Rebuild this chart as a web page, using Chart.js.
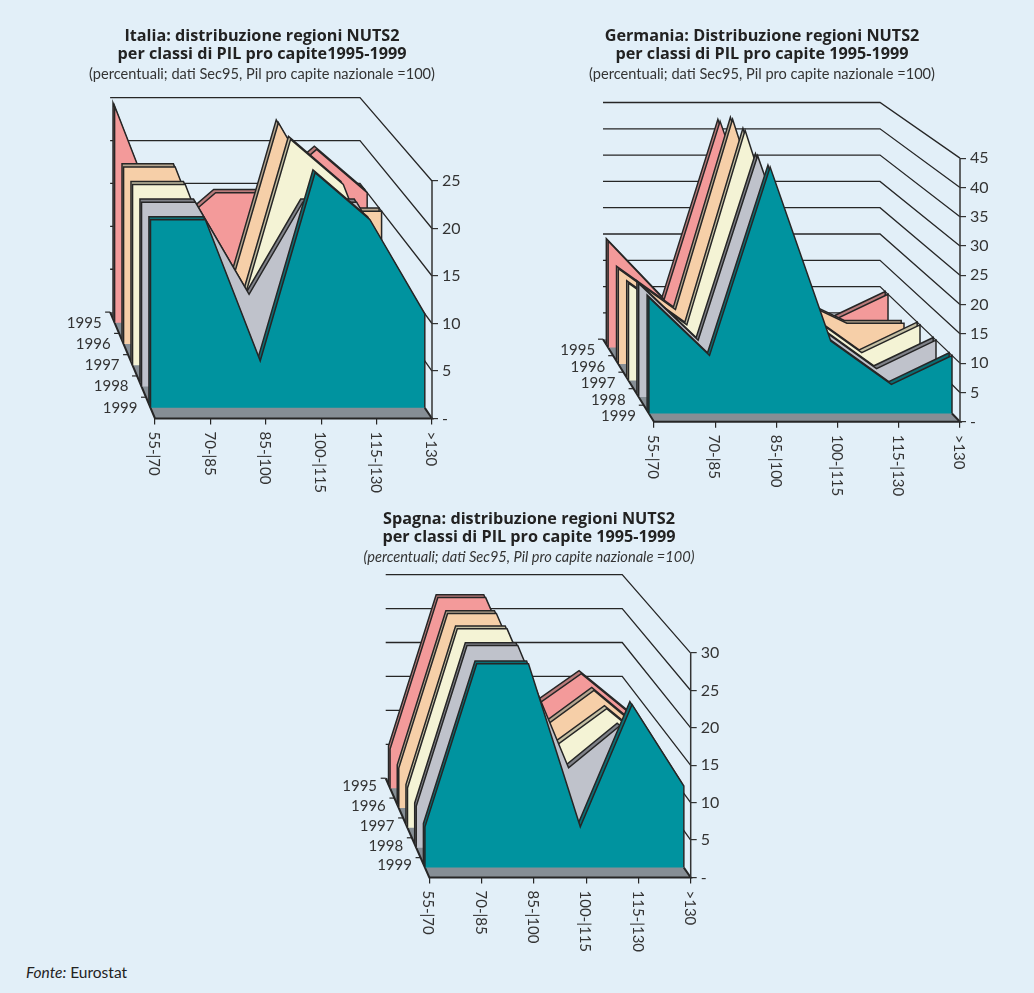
<!doctype html>
<html lang="it">
  <head>
    <meta charset="utf-8">
    <title>Distribuzione regioni NUTS2</title>
    <script src="https://cdnjs.cloudflare.com/ajax/libs/Chart.js/4.4.1/chart.umd.js"></script>
    <style>
      body { margin:0; background:#e2eff8; width:1034px; height:993px; position:relative; overflow:hidden; }
      canvas { position:absolute; }
      #fonte { position:absolute; left:26px; top:963px; font:15.5px Lato, sans-serif; color:#222; }
    </style>
  </head>
  <body>
    <canvas id="italia" width="524" height="500" style="left:0;top:0"></canvas>
    <canvas id="germania" width="544" height="500" style="left:490px;top:0"></canvas>
    <canvas id="spagna" width="598" height="480" style="left:230px;top:483px"></canvas>
    <div id="fonte"><i>Fonte:</i> Eurostat</div>

  <script>
    const categorie = ["55-|70","70-|85","85-|100","100-|115","115-|130",">130"];
    const anni = ["1995","1996","1997","1998","1999"];

    const italia1995 = [25,10,15,15,20,15];
    const italia1996 = [20,20,5,25,15,15];
    const italia1997 = [20,20,5,25,20,5];
    const italia1998 = [20,20,10,20,20,10];
    const italia1999 = [20,20,5,25,20,10];
    const italiaTick = [0,5,10,15,20,25];

    const germania1995 = [20,9,42.5,12.5,5,10];
    const germania1996 = [17.5,10,45,12.5,7.5,7.5];
    const germania1997 = [17.5,10,45,12.5,5,10];
    const germania1998 = [20,10,42.5,12.5,5,10];
    const germania1999 = [20,10,42.5,12.5,5,10];
    const germaniaTick = [0,5,10,15,20,25,30,35,40,45];

    const spagna1995 = [5.7,27.8,27.8,11.8,16.7,11];
    const spagna1996 = [5.7,27.8,27.8,11.7,16.8,11];
    const spagna1997 = [5.6,27.9,27.9,11.6,16.7,11];
    const spagna1998 = [5.7,27.8,27.8,11,16.7,11];
    const spagna1999 = [5.5,27.5,27.5,5.5,22,11];
    const spagnaTick = [0,5,10,15,20,25,30];

    const inchiostro = "#262626";
    const testo = "#333";
    const pavimento = "#868e95";
    // dal fondo (1995) verso il davanti (1999)
    const profondita = [0.9,0.7,0.5,0.3,0.1];
    const spessore = 0.035;
    const coloreArea = ["#f39a9a","#f6cfa8","#f4f3d5","#bfc2cb","#00939f"];
    const coloreBordo = ["#b87a7a","#b5a58f","#c4bfa3","#7f8188","#0a6e75"];
    const font = "Lato, sans-serif";

    // passa da (classe, valore, profondita) alle unita delle scale
    function punto(p, i, v, t){
      let sx = t*p.backLeft;
      let dx = 5 + t*(p.backRight-5);
      return { x: sx + i/5*(dx-sx), y: t*p.backBase + v*(1 - t*(1-p.backScale)) };
    }

    function sagoma(p, valori, t){
      let base = t*p.backBase;
      let pts = valori.map((v,i) => punto(p,i,v,t));
      pts.unshift({x:pts[0].x, y:base});
      pts.push({x:pts[pts.length-1].x, y:base});
      return pts;
    }

    function creaDatasets(p){
      let out = [];
      for(let k=p.serie.length-1; k>=0; k--){
        let t = profondita[k];
        out.push({data:sagoma(p,p.serie[k],t), backgroundColor:coloreArea[k], fill:{value:t*p.backBase},
          borderColor:inchiostro, borderWidth:1.5, pointRadius:0, tension:0});
        out.push({data:sagoma(p,p.serie[k],t+spessore), backgroundColor:coloreBordo[k], fill:{value:(t+spessore)*p.backBase},
          borderColor:inchiostro, borderWidth:1.5, pointRadius:0, tension:0});
      }
      return out;
    }

    // pavimento, pareti e testi che Chart.js non sa disporre da solo
    const telaio = {
      id:"telaio",
      beforeDatasetsDraw(chart, args, opts){
        let p = opts.p, ctx = chart.ctx;
        let X = chart.scales.x, Y = chart.scales.y;
        let px = q => [X.getPixelForValue(q.x), Y.getPixelForValue(q.y)];
        let linea = (pts, col, lw) => {
          ctx.beginPath();
          pts.forEach((q,n) => { let a = px(q); n ? ctx.lineTo(a[0],a[1]) : ctx.moveTo(a[0],a[1]); });
          ctx.strokeStyle = col; ctx.lineWidth = lw; ctx.stroke();
        };
        ctx.save();
        p.tick.slice(1).forEach(v => {
          linea([punto(p,5,v,0), punto(p,5,v,1), punto(p,0,v,1)], inchiostro, 1.3);
        });
        let suolo = [punto(p,0,0,0), punto(p,5,0,0), punto(p,5,0,1), punto(p,0,0,1)];
        ctx.beginPath();
        suolo.forEach((q,n) => { let a = px(q); n ? ctx.lineTo(a[0],a[1]) : ctx.moveTo(a[0],a[1]); });
        ctx.closePath();
        ctx.fillStyle = pavimento; ctx.fill();
        linea([punto(p,0,0,1), punto(p,0,0,0), punto(p,5,0,0), punto(p,5,0,0.1)], inchiostro, 2);
        linea([punto(p,5,0,0), punto(p,5,p.tick[p.tick.length-1],0)], testo, 1.5);

        // tacche e anni lungo la diagonale
        ctx.font = "15px "+font; ctx.fillStyle = testo;
        ctx.textAlign = "right"; ctx.textBaseline = "middle";
        anni.forEach((a,k) => {
          let bordo = px(punto(p,0,0,profondita[k]+0.1));
          ctx.strokeStyle = inchiostro; ctx.lineWidth = 1.2;
          ctx.beginPath(); ctx.moveTo(bordo[0],bordo[1]); ctx.lineTo(bordo[0]-5,bordo[1]); ctx.stroke();
          let c = px(punto(p,0,0,profondita[k]));
          ctx.fillText(a, c[0]-13, c[1]+p.annoDy);
        });

        // etichette delle classi, ruotate in senso orario
        X.ticks.forEach((tk,i) => {
          ctx.save();
          ctx.translate(X.getPixelForValue(tk.value)-1, Y.getPixelForValue(0)+13);
          ctx.rotate(Math.PI/2);
          ctx.textAlign = "left";
          ctx.fillText(categorie[i],0,0);
          ctx.restore();
        });
        ctx.restore();
      }
    };

    function creaGrafico(id, p){
      new Chart(document.getElementById(id).getContext("2d"), {
        type:"line",
        data:{ datasets:creaDatasets(p) },
        plugins:[telaio],
        options:{
          responsive:false,
          animation:false,
          layout:{ padding:p.padding },
          scales:{
            x:{
              type:"linear", min:p.xMin, max:5,
              afterBuildTicks(s){ s.ticks = categorie.map((c,i) => ({value:i})); },
              afterFit(s){ s.height = 6; s.paddingLeft = 0; s.paddingRight = 0; },
              ticks:{ display:false },
              grid:{ drawOnChartArea:false, tickLength:6, color:inchiostro, lineWidth:1.2 },
              border:{ display:false }
            },
            y:{
              type:"linear", position:"right", min:0, max:p.yMax,
              afterBuildTicks(s){ s.ticks = p.tick.map(v => ({value:v})); },
              afterFit(s){ s.width = 40; s.paddingTop = 0; s.paddingBottom = 0; },
              ticks:{ color:testo, padding:4, font:{family:font, size:16}, callback:v => v===0 ? "-" : v },
              grid:{ drawOnChartArea:false, tickLength:6, color:testo, lineWidth:1.2 },
              border:{ display:false }
            }
          },
          plugins:{
            filler:{ drawTime:"beforeDatasetDraw" },
            legend:{ display:false },
            tooltip:{ enabled:false },
            telaio:{ p:p },
            title:{ display:true, text:p.titolo, color:"#222", padding:{top:27,bottom:2},
              font:{family:"'Open Sans', sans-serif", size:16.2, weight:"bold", lineHeight:1.11} },
            subtitle:{ display:true, text:p.sottotitolo, color:testo, padding:{top:1,bottom:3},
              font:{family:font, size:14.6, style:p.stile, lineHeight:1.15} }
          }
        }
      });
    }

    creaGrafico("italia", {
      serie:[italia1995,italia1996,italia1997,italia1998,italia1999], tick:italiaTick,
      titolo:["Italia: distribuzione regioni NUTS2","per classi di PIL pro capite1995-1999"],
      sottotitolo:"(percentuali; dati Sec95, Pil pro capite nazionale =100)", stile:"normal",
      xMin:-1.859, yMax:35.03, backLeft:-0.81, backRight:3.7, backBase:11.2, backScale:0.903, annoDy:0,
      padding:{left:52, right:52, bottom:75.5}
    });
    creaGrafico("germania", {
      serie:[germania1995,germania1996,germania1997,germania1998,germania1999], tick:germaniaTick,
      titolo:["Germania: Distribuzione regioni NUTS2","per classi di PIL pro capite 1995-1999"],
      sottotitolo:"(percentuali; dati Sec95, Pil pro capite nazionale =100)", stile:"normal",
      xMin:-2.124, yMax:57.36, backLeft:-0.833, backRight:3.693, backBase:14.09, backScale:0.898, annoDy:3,
      padding:{left:34, right:34, bottom:72.3}
    });
    creaGrafico("spagna", {
      serie:[spagna1995,spagna1996,spagna1997,spagna1998,spagna1999], tick:spagnaTick,
      titolo:["Spagna: distribuzione regioni NUTS2","per classi di PIL pro capite 1995-1999"],
      sottotitolo:"(percentuali; dati Sec95, Pil pro capite nazionale =100)", stile:"italic",
      xMin:-1.951, yMax:41.27, backLeft:-0.834, backRight:3.69, backBase:13.27, backScale:0.907, annoDy:-2,
      padding:{left:97.3, right:97.3, bottom:79.5}
    });
  </script>
  </body>
</html>
